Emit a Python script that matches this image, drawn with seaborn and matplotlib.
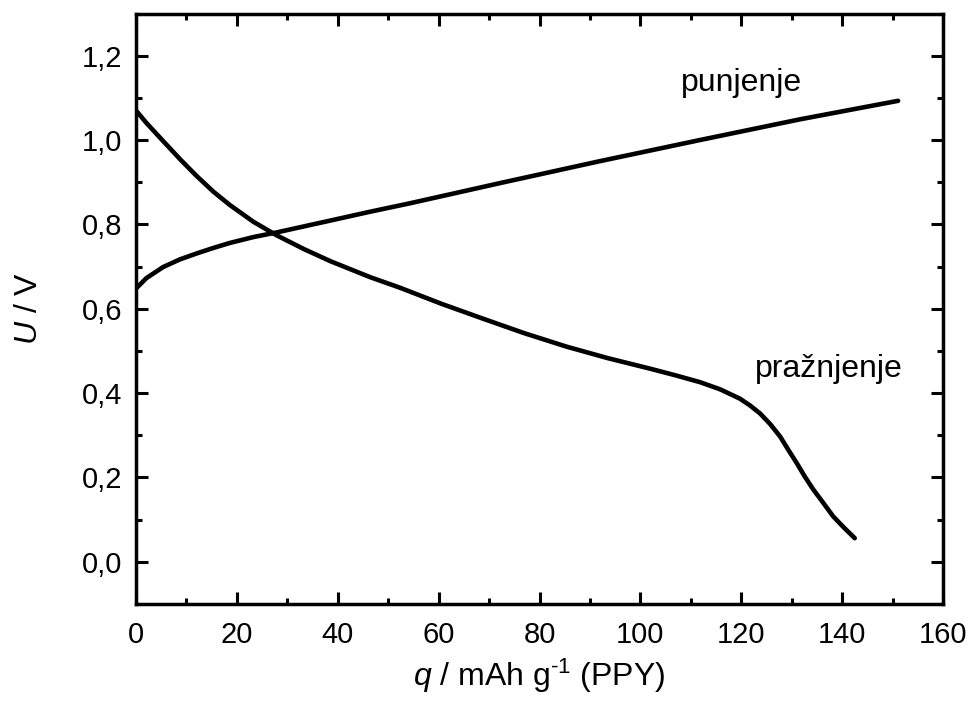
import matplotlib
matplotlib.use("Agg")
import matplotlib.pyplot as plt
from matplotlib.ticker import MultipleLocator, FixedLocator, FixedFormatter
import seaborn as sns
import pandas as pd

# Galvanostatic charge / discharge curves of a PPY electrode
charge_q = [0.0, 2.1, 5.4, 8.7, 12.0, 15.3, 18.6, 23.3, 27.9, 33.2, 38.5, 46.4, 54.3,
            72.2, 92.0, 111.8, 131.6, 151.1]
charge_u = [0.648, 0.673, 0.699, 0.717, 0.731, 0.744, 0.756, 0.770, 0.781, 0.795, 0.809,
            0.830, 0.850, 0.898, 0.950, 1.000, 1.049, 1.093]

discharge_q = [0.0, 2.1, 5.35, 8.7, 12.0, 15.3, 18.6, 23.3, 27.9, 33.2, 38.5, 46.4, 52.3,
               60.5, 68.9, 77.0, 85.4, 93.5, 101.9, 107.0, 111.8, 115.8, 119.7, 121.7,
               123.7, 125.7, 127.7, 129.3, 131.0, 132.6, 134.3, 136.3, 138.2, 140.2, 142.5]
discharge_u = [1.070, 1.040, 0.998, 0.955, 0.915, 0.878, 0.846, 0.806, 0.774, 0.742, 0.713,
               0.675, 0.650, 0.612, 0.576, 0.542, 0.510, 0.483, 0.458, 0.442, 0.426, 0.409,
               0.387, 0.371, 0.352, 0.327, 0.297, 0.266, 0.234, 0.202, 0.171, 0.139, 0.108,
               0.083, 0.056]

x_ticks = [0, 20, 40, 60, 80, 100, 120, 140, 160]
y_ticks = [0.0, 0.2, 0.4, 0.6, 0.8, 1.0, 1.2]
y_tick_labels = ["0,0", "0,2", "0,4", "0,6", "0,8", "1,0", "1,2"]

sns.set_theme(style="ticks")
plt.rcParams["font.family"] = ["Liberation Sans", "DejaVu Sans"]
plt.rcParams["mathtext.fontset"] = "custom"
plt.rcParams["mathtext.rm"] = "Liberation Sans"
plt.rcParams["mathtext.it"] = "Liberation Sans:italic"
plt.rcParams["mathtext.default"] = "regular"

charge_df = pd.DataFrame({"q": charge_q, "U": charge_u})
discharge_df = pd.DataFrame({"q": discharge_q, "U": discharge_u})

fig = plt.figure(figsize=(9.7, 7.07), dpi=100)
ax = fig.add_axes([0.1402, 0.1457, 0.832, 0.8352])

line_kw = dict(sort=False, color="black", lw=3.3, ax=ax)
sns.lineplot(data=charge_df, x="q", y="U", **line_kw)
sns.lineplot(data=discharge_df, x="q", y="U", **line_kw)
for ln in ax.lines:
    ln.set_solid_joinstyle("round")
    ln.set_solid_capstyle("round")

ax.set_xlim(0, 160)
ax.set_ylim(-0.1, 1.3)

ax.xaxis.set_major_locator(FixedLocator(x_ticks))
ax.xaxis.set_minor_locator(MultipleLocator(10))
ax.yaxis.set_major_locator(FixedLocator(y_ticks))
ax.yaxis.set_major_formatter(FixedFormatter(y_tick_labels))
ax.yaxis.set_minor_locator(MultipleLocator(0.1))

for side in ["top", "right", "bottom", "left"]:
    ax.spines[side].set_visible(True)
    ax.spines[side].set_linewidth(2.5)
    ax.spines[side].set_color("black")

ax.tick_params(which="both", direction="in", top=True, right=True, width=2.2,
               color="black", labelsize=21, labelcolor="black")
ax.tick_params(which="major", length=8.5)
ax.tick_params(which="minor", length=4.3)
ax.tick_params(axis="x", which="major", pad=12)
ax.tick_params(axis="y", which="major", pad=10)

ax.set_xlabel(r"$\mathit{q}$ / mAh g$^{\text{-}1}$ (PPY)", fontsize=23, color="black",
              labelpad=6)
ax.set_ylabel(r"$\mathit{U}$ / V", fontsize=23, color="black", labelpad=27)

ax.text(108.0, 1.116, "punjenje", fontsize=23, color="black", ha="left", va="baseline")
ax.text(122.7, 0.439, "pražnjenje", fontsize=23, color="black", ha="left", va="baseline")

fig.savefig("out.png", dpi=100, facecolor="white")
